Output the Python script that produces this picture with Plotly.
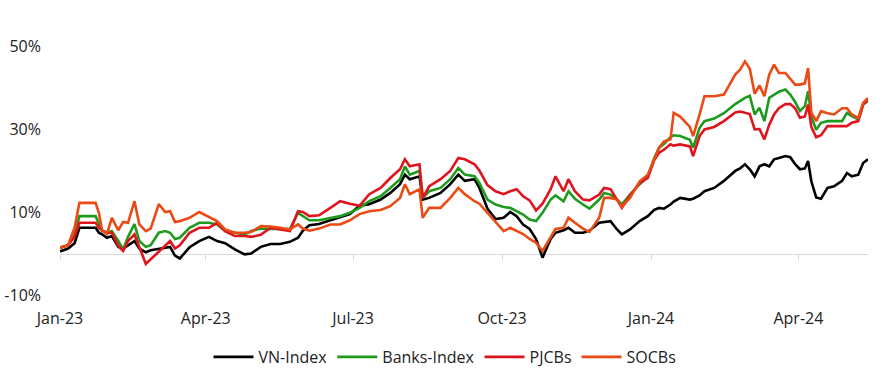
import plotly.graph_objects as go

dates = [
    # 2023 H1
    "2023-01-03", "2023-01-08", "2023-01-12", "2023-01-15", "2023-01-25", "2023-01-27", "2023-01-29",
    "2023-02-01", "2023-02-04", "2023-02-08", "2023-02-11", "2023-02-14", "2023-02-18", "2023-02-21",
    "2023-02-25", "2023-02-28", "2023-03-05", "2023-03-09", "2023-03-12", "2023-03-15", "2023-03-18",
    "2023-03-24", "2023-03-30", "2023-04-05", "2023-04-10", "2023-04-15", "2023-04-21", "2023-04-27",
    "2023-05-01", "2023-05-07", "2023-05-13", "2023-05-19", "2023-05-25", "2023-05-30",
    # mid 2023
    "2023-06-02", "2023-06-06", "2023-06-12", "2023-06-19", "2023-06-25", "2023-07-01", "2023-07-07",
    "2023-07-13", "2023-07-20", "2023-07-26", "2023-08-01", "2023-08-04", "2023-08-07", "2023-08-13",
    "2023-08-15", "2023-08-19", "2023-08-26", "2023-09-01", "2023-09-06", "2023-09-10", "2023-09-16",
    "2023-09-19", "2023-09-24", "2023-09-29", "2023-10-04", "2023-10-08", "2023-10-12", "2023-10-16",
    "2023-10-20", "2023-10-24", "2023-10-28", "2023-11-02", "2023-11-05", "2023-11-10", "2023-11-13",
    "2023-11-17", "2023-11-22", "2023-11-26",
    # Dec 2023 - May 2024
    "2023-12-02", "2023-12-05", "2023-12-09", "2023-12-13", "2023-12-16", "2023-12-21", "2023-12-27",
    "2024-01-01", "2024-01-05", "2024-01-08", "2024-01-11", "2024-01-15", "2024-01-17", "2024-01-21",
    "2024-01-27", "2024-01-29", "2024-02-02", "2024-02-05", "2024-02-11", "2024-02-17", "2024-02-24",
    "2024-02-27", "2024-03-01", "2024-03-04", "2024-03-07", "2024-03-10", "2024-03-13", "2024-03-16",
    "2024-03-19", "2024-03-22", "2024-03-26", "2024-03-29", "2024-04-01", "2024-04-04", "2024-04-07",
    "2024-04-09", "2024-04-11", "2024-04-14", "2024-04-17", "2024-04-21", "2024-04-25", "2024-04-30",
    "2024-05-03", "2024-05-06", "2024-05-10", "2024-05-13", "2024-05-16",
]

vn_index = [
    0.5, 1.2, 2.5, 6.2, 6.2, 5.0, 4.6, 3.8, 4.2, 1.6, 1.2, 2.0, 3.0, 1.2, 0.3, 0.8, 1.2, 1.4, 1.6, -0.5,
    -1.2, 1.5, 3.0, 4.0, 3.0, 2.5, 1.0, -0.2, 0.0, 1.6, 2.3, 2.3, 2.8, 3.8,
    5.5, 6.8, 7.1, 8.0, 8.8, 9.5, 11.5, 11.9, 13.0, 14.6, 16.7, 19.0, 17.9, 18.6, 13.0, 13.4, 14.6, 16.7,
    19.0, 17.5, 17.9, 15.8, 10.8, 8.3, 8.6, 10.0, 9.0, 7.0, 5.9, 3.5, -1.0, 3.5, 5.0, 5.6, 6.2, 5.0, 5.0, 5.5,
    7.4, 7.6, 7.8, 5.8, 4.6, 5.8, 7.8, 9.0, 10.5, 11.0, 10.8, 11.8, 12.5, 13.4, 13.0, 13.2, 14.0, 15.0,
    15.8, 17.5, 19.9, 20.5, 21.5, 20.3, 18.6, 21.0, 21.5, 21.0, 22.7, 23.0, 23.5, 23.2, 21.5, 20.3, 20.5,
    22.3, 17.4, 13.5, 13.2, 15.8, 16.2, 17.5, 19.4, 18.6, 19.0, 21.8, 22.7,
]

banks_index = [
    1.4, 2.0, 4.5, 9.0, 9.0, 7.4, 5.5, 5.0, 5.4, 3.0, 1.0, 4.0, 7.1, 3.0, 1.6, 2.0, 5.0, 5.4, 5.0, 3.5,
    3.8, 6.2, 7.4, 7.4, 7.0, 5.4, 5.0, 4.6, 5.4, 6.0, 5.9, 5.9, 5.9, 9.8,
    9.0, 8.0, 8.0, 8.6, 9.0, 9.8, 11.0, 12.6, 13.8, 15.8, 17.9, 21.0, 19.0, 19.9, 13.4, 15.0, 15.8, 17.9,
    20.6, 19.0, 18.6, 17.0, 13.0, 11.8, 11.2, 11.0, 10.2, 9.4, 8.2, 7.8, 9.8, 13.0, 14.0, 12.6, 15.0, 13.2,
    11.8, 10.8,
    13.0, 14.6, 14.2, 13.0, 11.8, 14.2, 16.7, 18.5, 23.0, 25.5, 26.4, 28.0, 28.5, 28.3, 27.4, 25.5, 30.3,
    31.9, 32.5, 33.8, 36.0, 36.8, 37.5, 38.0, 33.5, 35.1, 31.9, 37.5, 38.3, 39.0, 39.5, 38.3, 36.5, 34.3,
    35.5, 39.1, 33.0, 29.8, 31.5, 31.9, 31.9, 31.9, 33.9, 33.1, 32.3, 36.0, 36.7,
]

pjcbs = [
    1.4, 2.0, 4.0, 7.4, 7.4, 6.2, 5.5, 5.0, 5.0, 1.8, 0.6, 3.0, 4.6, 1.6, -2.5, -1.4, 0.5, 1.8, 3.0, 1.2,
    2.0, 5.0, 6.2, 6.2, 7.4, 5.4, 4.2, 4.2, 4.0, 4.5, 6.2, 5.8, 5.4, 10.2,
    10.0, 9.0, 9.2, 11.0, 12.6, 12.0, 11.5, 14.3, 15.8, 18.2, 20.3, 22.7, 21.0, 21.5, 13.4, 16.2, 17.9,
    19.9, 23.0, 22.7, 21.5, 20.0, 16.5, 15.0, 14.3, 15.0, 15.5, 13.8, 12.8, 10.4, 12.0, 15.5, 18.6, 15.0,
    17.9, 15.0, 13.0, 12.8,
    14.2, 15.8, 15.5, 13.0, 11.0, 14.0, 17.0, 18.2, 22.5, 24.3, 25.0, 26.3, 26.0, 26.3, 25.8, 23.5, 28.3,
    29.9, 30.5, 31.9, 34.0, 34.2, 33.9, 33.6, 29.9, 30.0, 27.5, 31.0, 33.5, 35.0, 36.0, 36.0, 35.0, 32.7,
    33.0, 35.9, 30.5, 28.0, 28.5, 30.7, 30.7, 30.7, 30.7, 31.5, 31.9, 35.9, 37.1,
]

socbs = [
    1.4, 2.0, 6.2, 12.2, 12.2, 9.8, 5.6, 4.7, 8.6, 5.6, 7.6, 7.4, 12.6, 7.0, 5.4, 6.0, 11.9, 10.0, 10.2,
    7.6, 7.8, 8.6, 10.0, 8.8, 7.8, 5.8, 5.0, 5.0, 5.2, 6.6, 6.5, 6.2, 5.8, 7.0,
    6.0, 5.5, 6.0, 7.0, 7.0, 8.0, 9.5, 10.2, 10.5, 11.4, 13.4, 16.7, 14.3, 15.5, 8.6, 11.0, 11.0, 13.4,
    15.8, 14.3, 12.6, 12.0, 9.8, 7.8, 5.4, 6.2, 5.5, 4.7, 3.5, 2.6, 0.6, 4.0, 5.9, 6.2, 8.6, 7.4, 6.0, 5.2,
    8.6, 13.4, 13.4, 13.0, 11.3, 13.4, 17.4, 19.0, 22.5, 25.5, 27.0, 27.5, 33.9, 33.0, 30.5, 28.3, 33.5,
    37.9, 37.9, 38.3, 43.1, 44.3, 46.3, 44.5, 38.5, 40.5, 37.9, 43.1, 45.5, 43.5, 43.5, 42.0, 40.7, 40.7,
    41.0, 44.7, 34.0, 31.9, 34.3, 33.8, 33.5, 35.0, 35.0, 33.5, 32.7, 36.3, 37.5,
]

series_names = ["VN-Index", "Banks-Index", "PJCBs", "SOCBs"]
series_values = [vn_index, banks_index, pjcbs, socbs]
series_colors = ["#000000", "#1E9B1E", "#E0141E", "#EB4A14"]

y_ticks = [-10, 10, 30, 50]
y_tick_labels = ["-10%", "10%", "30%", "50%"]
x_range = ["2023-01-03", "2024-05-16"]

for v in series_values:
    assert len(v) == len(dates), (len(v), len(dates))

fig = go.Figure()
for name, vals, col in zip(series_names, series_values, series_colors):
    fig.add_trace(go.Scatter(
        x=dates, y=vals, name=name, mode="lines",
        line=dict(color=col, width=2.6),
    ))

W, H = 883, 381
font_family = "Open Sans, Noto Sans, sans-serif"
text_color = "#222222"
fs = 16
fig.update_layout(
    width=W, height=H,
    margin=dict(l=60, r=15, t=46, b=86, autoexpand=False),
    paper_bgcolor="white", plot_bgcolor="white",
    font=dict(family=font_family, size=fs, color=text_color),
    showlegend=True,
    legend=dict(
        orientation="h", x=0.4765, xanchor="center",
        yref="container", y=1 - 357 / H, yanchor="middle",
        itemwidth=40,
        font=dict(size=fs, color=text_color),
        bgcolor="rgba(0,0,0,0)",
    ),
)

fig.update_xaxes(
    type="date", range=x_range,
    tick0="2023-01-03", dtick="M3", tickformat="%b-%y",
    showgrid=False, zeroline=False,
    showline=True, linecolor="#D9D9D9", linewidth=1,
    anchor="free", position=1 / 6,
    ticks="outside", ticklen=5, tickcolor="#D9D9D9",
    ticklabelstandoff=45,
    layer="below traces", automargin=False,
    tickfont=dict(size=fs, color=text_color),
)
fig.update_yaxes(
    range=[-10, 50], tickvals=y_ticks, ticktext=y_tick_labels,
    showgrid=False, zeroline=False, showline=False,
    ticks="", ticklabelstandoff=18, automargin=False,
    tickfont=dict(size=fs, color=text_color),
)

# remove the default 8px page margin so the figure fills the window exactly
fig.write_html(
    "out.html",
    config={"displayModeBar": False},
    post_script="document.body.style.margin='0';",
)
